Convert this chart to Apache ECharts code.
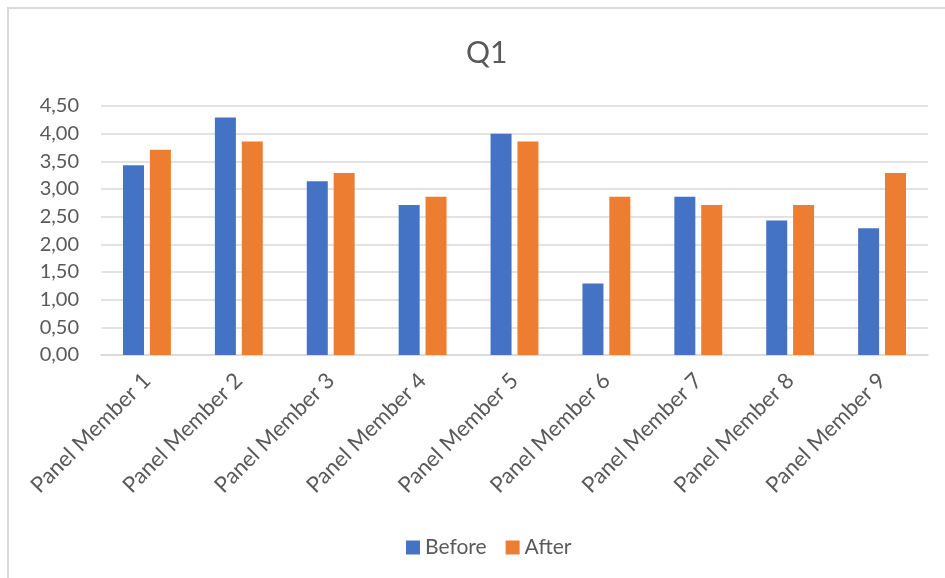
<!DOCTYPE html>
<html>
<head>
<meta charset="utf-8">
<script src="https://cdn.jsdelivr.net/npm/echarts@6/dist/echarts.min.js"></script>
<style>
  html, body { margin: 0; padding: 0; background: #fff; }
  #chart { width: 945px; height: 578px; }
</style>
</head>
<body>
<div id="chart"></div>
<script>
// Data
const categories = ['Panel Member 1', 'Panel Member 2', 'Panel Member 3', 'Panel Member 4', 'Panel Member 5',
  'Panel Member 6', 'Panel Member 7', 'Panel Member 8', 'Panel Member 9']
const beforeValues = [3.43, 4.29, 3.14, 2.71, 4.00, 1.29, 2.86, 2.43, 2.29]
const afterValues = [3.71, 3.86, 3.29, 2.86, 3.86, 2.86, 2.71, 2.71, 3.29]
const seriesNames = ['Before', 'After']

const textColor = '#595959'
const lineColor = '#d9d9d9'
const fontFamily = 'Lato, "Open Sans", sans-serif'

const chart = echarts.init(document.getElementById('chart'))

chart.setOption({
  backgroundColor: '#fff',
  animation: false,
  // light chart-area border (left + top visible in reference)
  graphic: [{
    type: 'rect',
    shape: { x: 8, y: 8, width: 960, height: 600 },
    style: { fill: 'none', stroke: lineColor, lineWidth: 2 },
    silent: true
  }],
  title: {
    text: 'Q1',
    left: 461,
    top: 33,
    textStyle: { color: textColor, fontSize: 30, fontWeight: 'normal', fontFamily }
  },
  legend: {
    data: seriesNames,
    left: 401,
    top: 532,
    icon: 'rect',
    itemWidth: 14,
    itemHeight: 14,
    itemGap: 19,
    textStyle: { color: textColor, fontSize: 21, fontFamily }
  },
  grid: {
    left: 101,
    right: 17,
    top: 106,
    bottom: 223,
    outerBoundsMode: 'none'
  },
  xAxis: {
    type: 'category',
    data: categories,
    axisTick: { show: false },
    axisLine: { lineStyle: { color: lineColor, width: 1.5 } },
    axisLabel: {
      interval: 0,
      rotate: 45,
      margin: 22,
      color: textColor,
      fontSize: 22,
      fontFamily
    }
  },
  yAxis: {
    type: 'value',
    min: 0,
    max: 4.5,
    interval: 0.5,
    axisLine: { show: false },
    axisTick: { show: false },
    axisLabel: {
      margin: 22,
      color: textColor,
      fontSize: 20,
      fontFamily,
      formatter: v => v.toFixed(2).replace('.', ',')
    },
    splitLine: { lineStyle: { color: lineColor, width: 1.5 } }
  },
  series: [
    {
      name: seriesNames[0],
      type: 'bar',
      data: beforeValues,
      barWidth: 21,
      barGap: '28%',
      itemStyle: { color: '#4472C4' }
    },
    {
      name: seriesNames[1],
      type: 'bar',
      data: afterValues,
      barWidth: 21,
      itemStyle: { color: '#ED7D31' }
    }
  ]
})
</script>
</body>
</html>
